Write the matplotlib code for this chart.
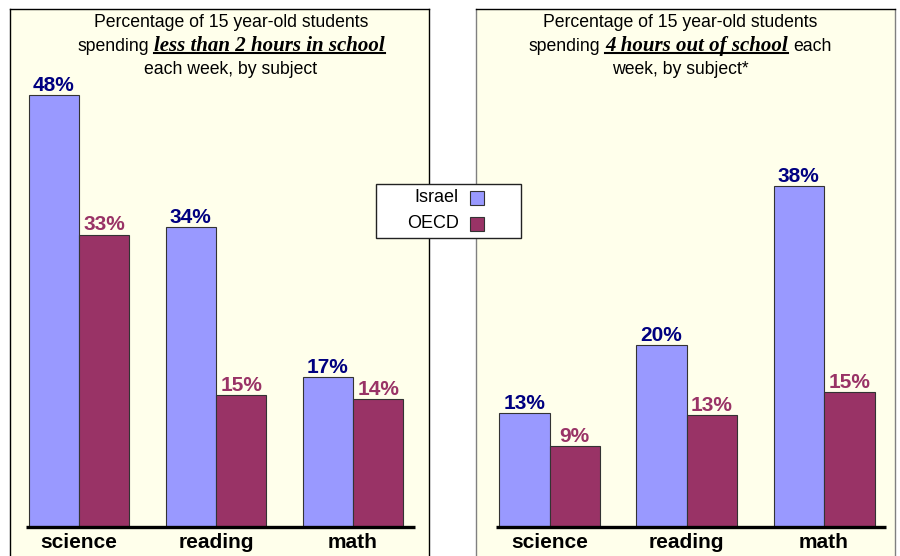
import matplotlib
matplotlib.use("Agg")
import matplotlib.pyplot as plt
from matplotlib.patches import Rectangle
from matplotlib.lines import Line2D
import numpy as np

# ---- data ----
subjects = ["science", "reading", "math"]
series = ["Israel", "OECD"]

# left panel: less than 2 hours in school
left_israel = [48.0, 33.3, 16.7]
left_oecd = [32.5, 14.7, 14.2]
left_israel_lbl = ["48%", "34%", "17%"]
left_oecd_lbl = ["33%", "15%", "14%"]

# right panel: 4 hours out of school
right_israel = [12.7, 20.2, 37.9]
right_oecd = [9.0, 12.4, 15.0]
right_israel_lbl = ["13%", "20%", "38%"]
right_oecd_lbl = ["9%", "13%", "15%"]

# ---- style ----
W, H = 900, 556
ISR = "#9999FF"
OEC = "#993366"
ISR_TXT = "#000080"
OEC_TXT = "#993366"
PANEL = "#FFFFEB"
SANS = "Liberation Sans"
SERIF = "Liberation Serif"

fig = plt.figure(figsize=(W / 100, H / 100), dpi=100)
fig.patch.set_facecolor("white")


def fx(x):
    return x / W


def fy(y):
    return 1 - y / H


def panel(x0, x1, xlim, isr, oec, isr_lbl, oec_lbl, side_col):
    ax = fig.add_axes([fx(x0), 0, fx(x1 - x0), (H - 9) / H])
    ax.set_facecolor(PANEL)
    ax.set_xlim(*xlim)
    ax.set_ylim((527 - 556) / 9, (527 - 9) / 9)
    x = np.arange(len(subjects))
    w = 0.368
    ax.bar(x - w / 2, isr, w, color=ISR, edgecolor="#333333", linewidth=0.8, zorder=2)
    ax.bar(x + w / 2, oec, w, color=OEC, edgecolor="#333333", linewidth=0.8, zorder=2)
    ax.plot([-0.39, 2.45], [0, 0], color="black", linewidth=2.4, zorder=3,
            solid_capstyle="butt")
    for i in range(len(subjects)):
        ax.annotate(isr_lbl[i], (x[i] - w / 2, isr[i]), xytext=(0, 3),
                    textcoords="offset points", ha="center", va="baseline",
                    fontsize=15, fontweight="bold", color=ISR_TXT, family=SANS)
        ax.annotate(oec_lbl[i], (x[i] + w / 2, oec[i]), xytext=(0, 3),
                    textcoords="offset points", ha="center", va="baseline",
                    fontsize=15, fontweight="bold", color=OEC_TXT, family=SANS)
        ax.text(x[i], -20.5 / 9, subjects[i], ha="center", va="baseline",
                fontsize=15, fontweight="bold", family=SANS)
    ax.set_xticks([])
    ax.set_yticks([])
    for s in ax.spines.values():
        s.set_linewidth(1.0)
    ax.spines["bottom"].set_visible(False)
    ax.spines["top"].set_color("black")
    ax.spines["left"].set_color(side_col)
    ax.spines["right"].set_color(side_col)
    return ax


panel(10, 429, (-0.5036, 2.5547), left_israel, left_oecd,
      left_israel_lbl, left_oecd_lbl, "black")
panel(476, 895, (-0.5355, 2.517), right_israel, right_oecd,
      right_israel_lbl, right_oecd_lbl, "#808080")

# ---- titles with mixed fonts ----
renderer = fig.canvas.get_renderer()
sans_kw = dict(family=SANS, fontsize=12.7)
ser_kw = dict(family=SERIF, fontsize=15, fontweight="bold", style="italic")


def text_width(s, kw):
    t = fig.text(0, 0, s, **kw)
    wd = t.get_window_extent(renderer).width
    t.remove()
    return wd


def put_line(pieces, cx, base):
    gap = text_width("x x", sans_kw) - text_width("xx", sans_kw)
    widths = [text_width(s, kw) for s, kw, _ in pieces]
    total = sum(widths) + gap * (len(pieces) - 1)
    x = cx - total / 2
    for (s, kw, ul), wd in zip(pieces, widths):
        fig.text(fx(x), fy(base), s, ha="left", va="baseline", **kw)
        if ul:
            fig.add_artist(Line2D([fx(x), fx(x + wd)], [fy(base + 2), fy(base + 2)],
                                  color="black", linewidth=1.5))
        x += wd + gap


for cx, mid, tail, last in [
    (231, "less than 2 hours in school", None, "each week, by subject"),
    (680, "4 hours out of school", "each", "week, by subject*"),
]:
    put_line([("Percentage of 15 year-old students", sans_kw, False)], cx, 27)
    line2 = [("spending", sans_kw, False), (mid, ser_kw, True)]
    if tail:
        line2.append((tail, sans_kw, False))
    put_line(line2, cx, 51)
    put_line([(last, sans_kw, False)], cx, 74)

# ---- legend ----
fig.add_artist(Rectangle((fx(376), fy(238)), fx(521 - 376), (238 - 184) / H,
                         facecolor="white", edgecolor="#222222", linewidth=1.0,
                         transform=fig.transFigure, zorder=5))
for name, col, yc in [(series[0], ISR, 198), (series[1], OEC, 224)]:
    fig.text(fx(459), fy(yc), name, ha="right", va="center",
             family=SANS, fontsize=13, zorder=6)
    fig.add_artist(Rectangle((fx(470), fy(yc + 7)), fx(14), 14 / H,
                             facecolor=col, edgecolor="#333333", linewidth=0.8,
                             transform=fig.transFigure, zorder=6))

fig.savefig("out.png", dpi=100)
